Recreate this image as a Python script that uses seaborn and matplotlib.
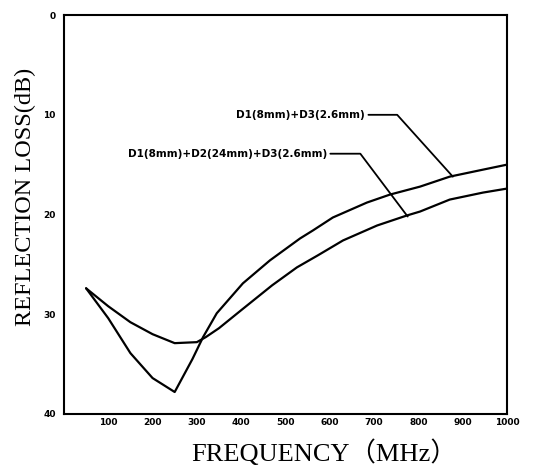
import pandas as pd
import matplotlib
matplotlib.use('Agg')
import matplotlib.pyplot as plt
import seaborn as sns

# D1(8mm)+D3(2.6mm): deep dip near 250 MHz
freq_a = [50, 100, 150, 200, 250, 290, 314, 345, 404, 465, 533, 562, 607, 684, 736, 804, 871, 946, 1000]
loss_a = [27.4, 30.4, 33.9, 36.4, 37.8, 34.5, 32.3, 29.9, 26.9, 24.6, 22.4, 21.6, 20.3, 18.8, 18.0, 17.2, 16.2, 15.5, 15.0]

# D1(8mm)+D2(24mm)+D3(2.6mm): shallow dip
freq_b = [50, 100, 150, 200, 250, 300, 320, 350, 400, 470, 526, 573, 630, 707, 774, 804, 871, 946, 1000]
loss_b = [27.4, 29.2, 30.8, 32.0, 32.9, 32.8, 32.3, 31.4, 29.6, 27.1, 25.3, 24.1, 22.6, 21.1, 20.1, 19.7, 18.5, 17.8, 17.4]

label_a = 'D1(8mm)+D3(2.6mm)'
label_b = 'D1(8mm)+D2(24mm)+D3(2.6mm)'

x_ticks = [100, 200, 300, 400, 500, 600, 700, 800, 900, 1000]
y_ticks = [0, 10, 20, 30, 40]

df = pd.concat([
    pd.DataFrame({'freq': freq_a, 'loss': loss_a, 'series': label_a}),
    pd.DataFrame({'freq': freq_b, 'loss': loss_b, 'series': label_b}),
])

sns.set_style('white')
plt.rcParams['text.color'] = 'black'
plt.rcParams['axes.labelcolor'] = 'black'
fig = plt.figure(figsize=(5.33, 4.72), dpi=100)
ax = fig.add_axes([0.120, 0.123, 0.831, 0.845])

sns.lineplot(data=df, x='freq', y='loss', units='series', estimator=None,
             color='black', linewidth=1.6, sort=False, legend=False, ax=ax)

ax.set_xlim(0, 1000)
ax.set_ylim(40, 0)
ax.set_xticks(x_ticks)
ax.set_yticks(y_ticks)
ax.tick_params(direction='in', length=8, width=1.2, colors='black', labelsize=6.5, pad=3)
ax.tick_params(axis='y', pad=6)
for lab in ax.get_xticklabels() + ax.get_yticklabels():
    lab.set_fontweight('bold')
for s in ax.spines.values():
    s.set_color('black')
    s.set_linewidth(1.5)

ax.set_xlabel('FREQUENCY（MHz）', family=['Liberation Serif', 'Noto Sans CJK JP'], fontsize=19)
ax.set_ylabel('REFLECTION LOSS(dB)', family=['Liberation Serif'], fontsize=17.5)
ax.xaxis.set_label_coords(0.587, -0.065)
ax.yaxis.set_label_coords(-0.062, 0.544)

# leader labels
ax.annotate(label_a, xy=(878, 16.2), xytext=(680, 10.0), fontsize=7.5, fontweight='bold',
            ha='right', va='center',
            arrowprops=dict(arrowstyle='-', color='black', lw=1.3,
                            connectionstyle='angle,angleA=0,angleB=-48,rad=0', shrinkA=0, shrinkB=0))
ax.annotate(label_b, xy=(776, 20.2), xytext=(594, 13.9), fontsize=7.5, fontweight='bold',
            ha='right', va='center',
            arrowprops=dict(arrowstyle='-', color='black', lw=1.3,
                            connectionstyle='angle,angleA=0,angleB=-53,rad=0', shrinkA=0, shrinkB=0))

fig.savefig('out.png', dpi=100)
